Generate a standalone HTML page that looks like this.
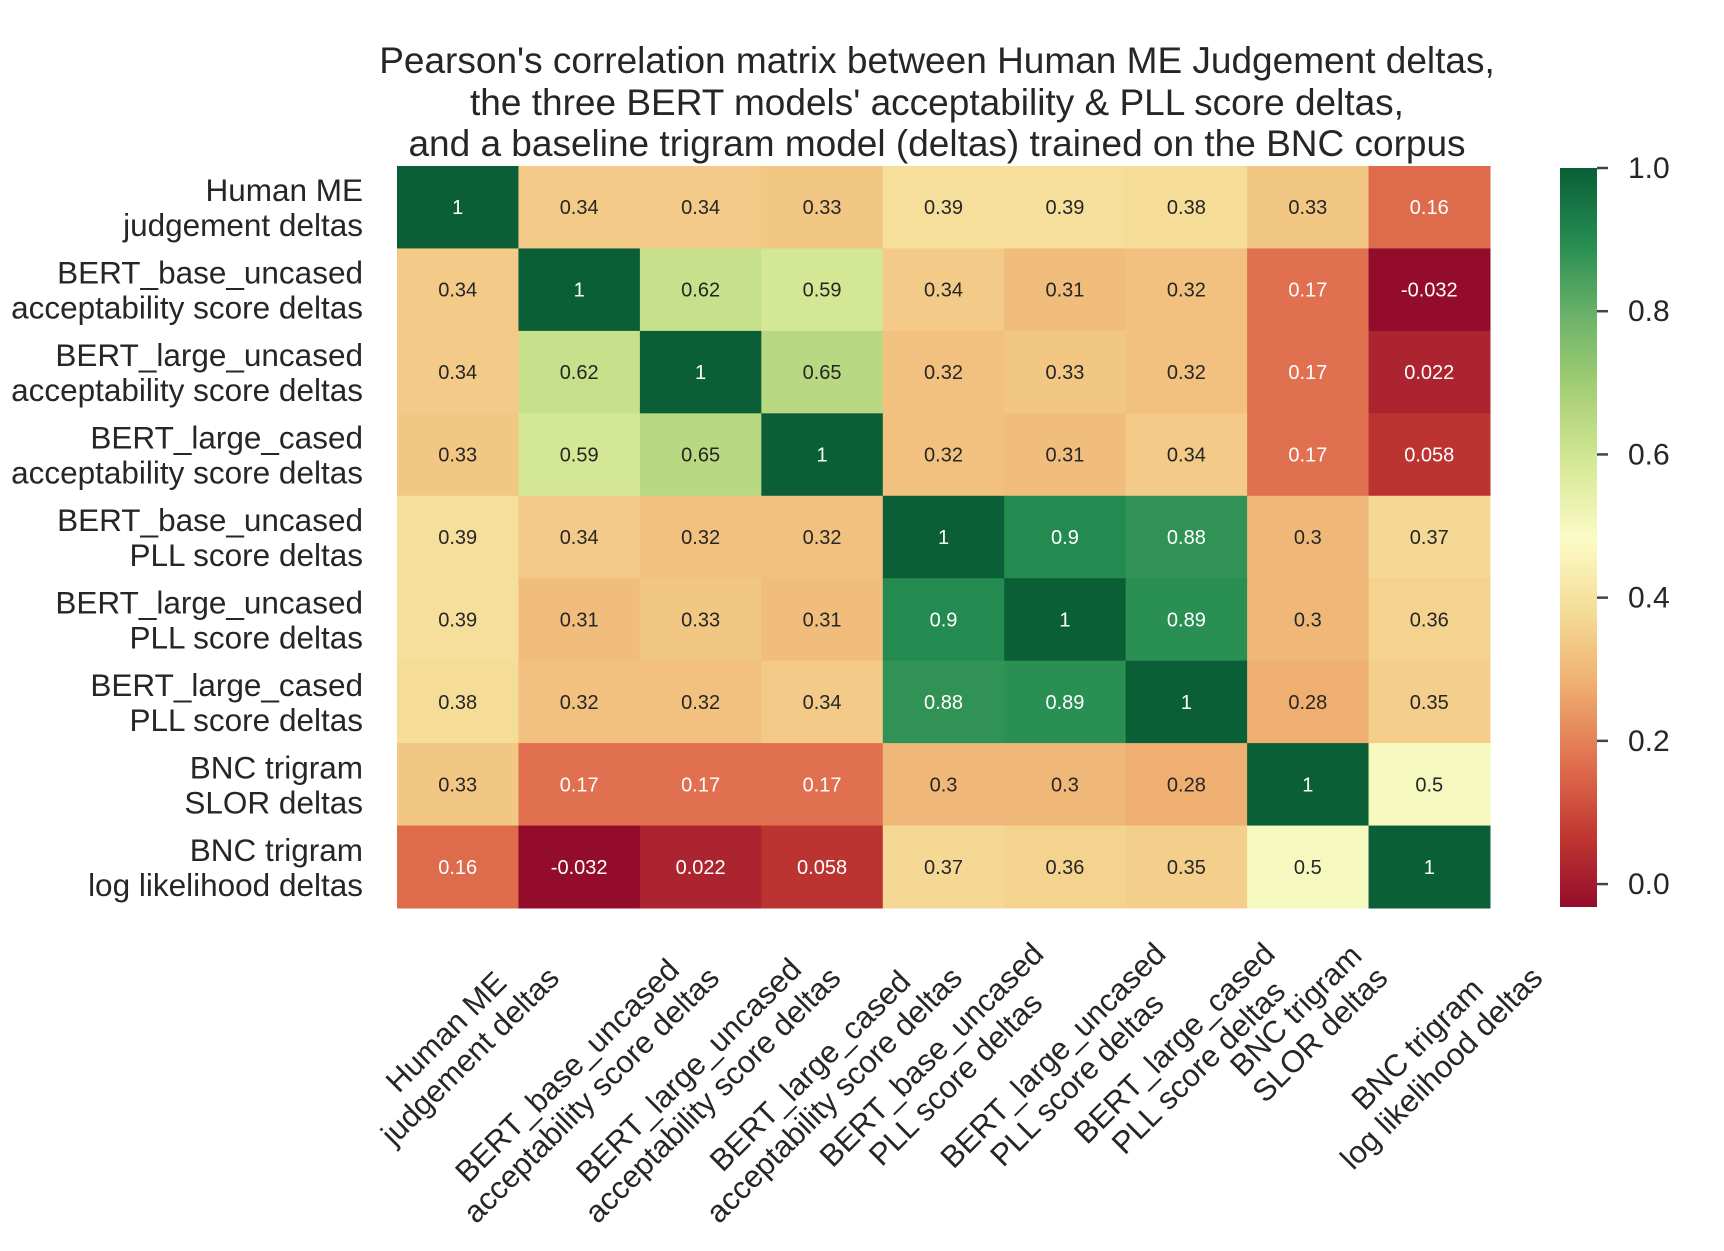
<!DOCTYPE html>
<html><head><meta charset="utf-8"><style>
body{margin:0;background:#fff;}
svg text{font-family:"Liberation Sans",sans-serif;}
</style></head><body>
<svg id="chart" width="1724" height="1246" xmlns="http://www.w3.org/2000/svg">
<rect width="1724" height="1246" fill="#fff"/>
<g font-size="37" fill="#262626" text-anchor="middle">
<text x="937" y="73">Pearson's correlation matrix between Human ME Judgement deltas,</text>
<text x="937" y="115">the three BERT models' acceptability &amp; PLL score deltas,</text>
<text x="937" y="156">and a baseline trigram model (deltas) trained on the BNC corpus</text>
</g>
<g id="cells"></g><g id="ylabels"></g><g id="xlabels"></g><g id="cbar"></g>
</svg>
<script>
const labels = [
 ["Human ME","judgement deltas"],
 ["BERT_base_uncased","acceptability score deltas"],
 ["BERT_large_uncased","acceptability score deltas"],
 ["BERT_large_cased","acceptability score deltas"],
 ["BERT_base_uncased","PLL score deltas"],
 ["BERT_large_uncased","PLL score deltas"],
 ["BERT_large_cased","PLL score deltas"],
 ["BNC trigram","SLOR deltas"],
 ["BNC trigram","log likelihood deltas"]
];
const values = [
 [1,0.34,0.34,0.33,0.39,0.39,0.38,0.33,0.16],
 [0.34,1,0.62,0.59,0.34,0.31,0.32,0.17,-0.032],
 [0.34,0.62,1,0.65,0.32,0.33,0.32,0.17,0.022],
 [0.33,0.59,0.65,1,0.32,0.31,0.34,0.17,0.058],
 [0.39,0.34,0.32,0.32,1,0.9,0.88,0.3,0.37],
 [0.39,0.31,0.33,0.31,0.9,1,0.89,0.3,0.36],
 [0.38,0.32,0.32,0.34,0.88,0.89,1,0.28,0.35],
 [0.33,0.17,0.17,0.17,0.3,0.3,0.28,1,0.5],
 [0.16,-0.032,0.022,0.058,0.37,0.36,0.35,0.5,1]
];
const cbarTicks = [0.0,0.2,0.4,0.6,0.8,1.0];
const vmin = -0.032, vmax = 1;
const NS="http://www.w3.org/2000/svg";
const L=397,R=1490,T=166,B=908;
const n=labels.length, cw=(R-L)/n, ch=(B-T)/n;
const stops=["#a50026","#d73027","#f46d43","#fdae61","#fee08b","#ffffbf","#d9ef8b","#a6d96a","#66bd63","#1a9850","#006837"];
function hex(h){return [1,3,5].map(i=>parseInt(h.substr(i,2),16));}
function cmap(v){let t=Math.max(0,Math.min(1,(v-vmin)/(vmax-vmin)))*(stops.length-1);
 let i=Math.min(stops.length-2,Math.floor(t)),f=t-i,a=hex(stops[i]),b=hex(stops[i+1]);
 let c=a.map((x,k)=>x+(b[k]-x)*f);
 const g=(c[0]+c[1]+c[2])/3;
 c=c.map(x=>Math.round(x*0.82+g*0.18));
 return c;}
function el(tag,attrs,parent){const e=document.createElementNS(NS,tag);for(const k in attrs)e.setAttribute(k,attrs[k]);parent.appendChild(e);return e;}
const xs=i=>L+i*cw, ys=j=>T+j*ch;
const cells=document.getElementById('cells');
values.forEach((row,j)=>row.forEach((v,i)=>{
 const c=cmap(v);
 const r=el('rect',{x:xs(i),y:ys(j),width:cw+0.5,height:ch+0.5,fill:`rgb(${c})`},cells);
 
 
 const lum=0.2126*c[0]+0.7152*c[1]+0.0722*c[2];
 const t=el('text',{x:xs(i)+cw/2,y:ys(j)+ch/2+7,'text-anchor':'middle','font-size':20,fill:lum>140?'#262626':'#ffffff'},cells);
 t.textContent=String(v);
 
 
}));
const yl=document.getElementById('ylabels');
labels.forEach((lb,j)=>{
 const t=el('text',{'text-anchor':'end','font-size':31.5,fill:'#262626'},yl);
 
 
 lb.forEach((s,k)=>{const sp=el('tspan',{x:363,y:ys(j)+ch/2+(k?29:-6)},t);sp.textContent=s;});
});
const xl=document.getElementById('xlabels');
labels.forEach((lb,i)=>{
 const g=el('g',{},xl);
 
 
 const t=el('text',{'text-anchor':'middle','font-size':31,fill:'#262626'},g);
 lb.forEach((s,k)=>{const sp=el('tspan',{x:0,y:k?17+16:-17+16},t);sp.textContent=s;});
 const bb=t.getBBox();
 const rh=(bb.width+bb.height)/Math.SQRT2;
 const cx=xs(i)+cw/2, cy=936+rh/2;
 g.setAttribute('transform',`translate(${cx},${cy}) rotate(-45) translate(${-(bb.x+bb.width/2)},${-(bb.y+bb.height/2)})`);
});
const cb=document.getElementById('cbar');
const CL=1560,CR=1597,CT=168,CB=907;
const defs=el('defs',{},cb);
const lg=el('linearGradient',{id:'cg',x1:0,y1:1,x2:0,y2:0},defs);
for(let k=0;k<=40;k++){const v=vmin+(vmax-vmin)*k/40;el('stop',{offset:k/40,'stop-color':`rgb(${cmap(v)})`},lg);}
const cr=el('rect',{x:CL,y:CT,width:CR-CL,height:CB-CT,fill:'url(#cg)'},cb);


const cy2=v=>CB-(v-vmin)/(vmax-vmin)*(CB-CT);
cbarTicks.forEach(v=>{
 const y=cy2(v);
 const ln=el('line',{x1:CR,x2:CR+11,y1:y,y2:y,stroke:'#444','stroke-width':2.5},cb);
 
 
 const t=el('text',{x:1628,y:y+10,'font-size':30,fill:'#262626'},cb);
 t.textContent=v.toFixed(1);
 
 
});
</script>
</body></html>
